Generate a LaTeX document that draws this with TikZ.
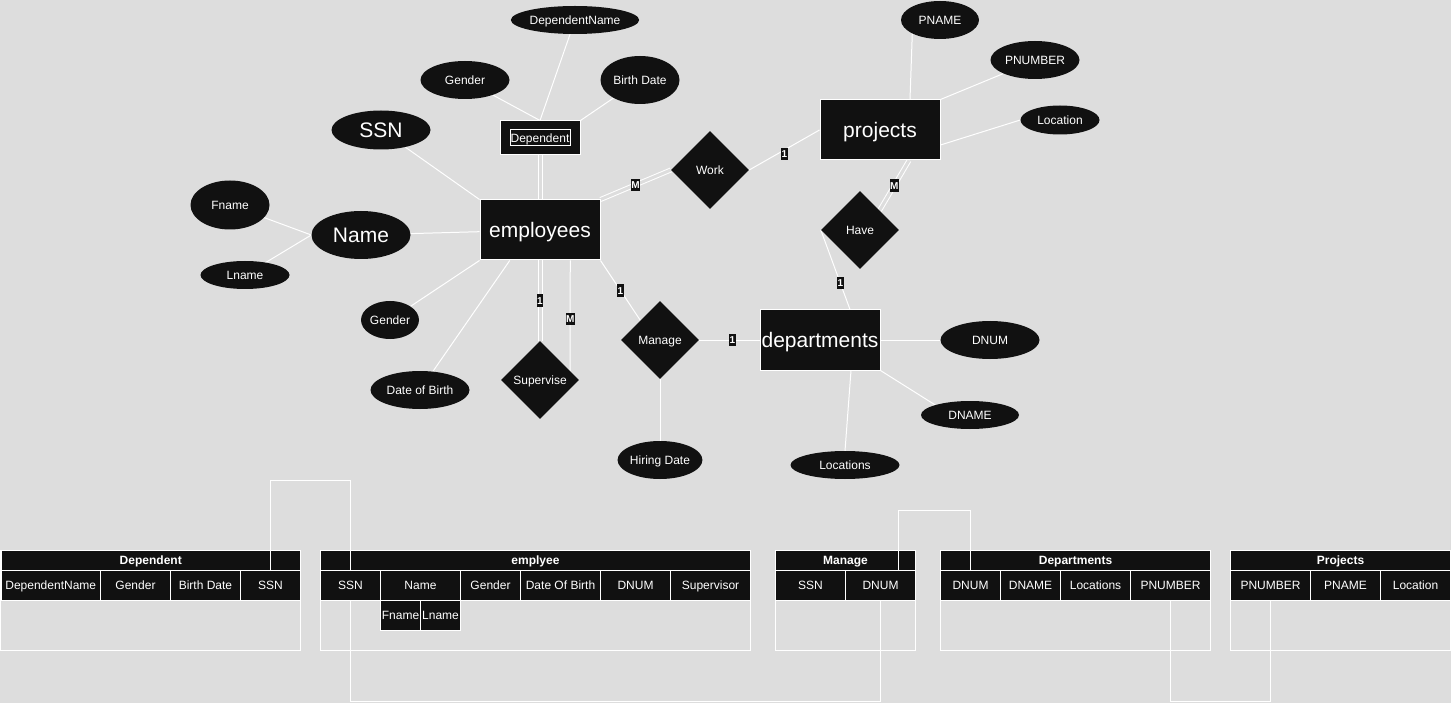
\documentclass[tikz,border=0pt]{standalone}
\usepackage{fontspec}
\setmainfont{Liberation Sans}
\usetikzlibrary{shapes.geometric,calc}
\definecolor{bgc}{HTML}{DDDDDD}
\definecolor{blk}{HTML}{111111}
\pgfdeclarelayer{bglayer}
\pgfdeclarelayer{edges}
\pgfsetlayers{bglayer,edges,main}
\begin{document}
\begin{tikzpicture}[x=1pt,y=-1pt,
  every node/.style={text=white, inner sep=0pt},
  small/.style={font=\fontsize{12}{14}\selectfont, text height=10.9pt, text depth=2.5pt},
  large/.style={font=\fontsize{21}{24}\selectfont, text height=19pt, text depth=4.5pt},
  attr/.style={ellipse, fill=blk, small},
  bigattr/.style={ellipse, fill=blk, large},
  ent/.style={rectangle, fill=blk, draw=white, line width=1pt, minimum width=120pt, minimum height=60pt, large},
  rel/.style={diamond, fill=blk, minimum width=78pt, minimum height=78pt, small},
  conn/.style={draw=white, line width=1pt},
  dconn/.style={draw=white, line width=1pt, double=bgc, double distance=3pt},
  card/.style={fill=blk, text=white, font=\fontsize{10}{11}\selectfont\bfseries, inner xsep=0.5pt, inner ysep=2.5pt, text height=7.3pt, text depth=0pt},
  cell/.style={rectangle, fill=blk, draw=white, line width=1pt, small, anchor=north west, minimum height=30pt},
  ttl/.style={cell, font=\fontsize{12}{14}\selectfont\bfseries, minimum height=20pt},
  sub/.style={cell, minimum height=30pt},
  outline/.style={draw=white, line width=1pt}
]
\useasboundingbox (0,0) rectangle (1451,703);
\begin{pgfonlayer}{bglayer}
\fill[bgc] (0,0) rectangle (1451,703);
\end{pgfonlayer}

% ---------- ER diagram ----------
\node[attr, minimum width=108pt, minimum height=28pt] (depname) at (575,20) {DependentName};
\node[attr, minimum width=89pt, minimum height=38pt] (dgender) at (465,80) {Gender};
\node[attr, minimum width=79pt, minimum height=48pt] (dbirth) at (640,80) {Birth Date};
\node[bigattr, minimum width=99pt, minimum height=39pt] (ssn) at (381,130) {SSN};
\node[bigattr, minimum width=99pt, minimum height=48pt] (name) at (361,235) {Name};
\node[attr, minimum width=79pt, minimum height=49pt] (fname) at (230,205) {Fname};
\node[attr, minimum width=89pt, minimum height=28pt] (lname) at (245,275) {Lname};
\node[attr, minimum width=58pt, minimum height=38pt] (egender) at (390,320) {Gender};
\node[attr, minimum width=99pt, minimum height=38pt] (dob) at (420,390) {Date of Birth};
\node[attr, minimum width=78pt, minimum height=38pt] (pname) at (940,20) {PNAME};
\node[attr, minimum width=89pt, minimum height=38pt] (pnumber) at (1035,60) {PNUMBER};
\node[attr, minimum width=79pt, minimum height=29pt] (ploc) at (1060,120) {Location};
\node[attr, minimum width=99pt, minimum height=38pt] (dnum) at (990,340) {DNUM};
\node[attr, minimum width=98pt, minimum height=28pt] (dnamen) at (970,415) {DNAME};
\node[attr, minimum width=109pt, minimum height=28pt] (locs) at (845,465) {Locations};
\node[attr, minimum width=78pt, minimum height=38pt] (hire) at (660,460) {Hiring Date};

\node[rectangle, fill=blk, draw=white, line width=1pt, minimum width=80pt, minimum height=34pt] (dep) at (540,138) {};
\node[draw=white, line width=1pt, minimum width=60pt, minimum height=16pt, small] (depin) at (dep) {Dependent};
\node[ent] (emp) at (540,230) {employees};
\node[ent] (proj) at (880,130) {projects};
\node[ent] (dept) at (820,340) {departments};

\node[rel] (work) at (710,170) {Work};
\node[rel] (have) at (860,230) {Have};
\node[rel] (man) at (660,340) {Manage};
\node[rel] (sup) at (540,380) {Supervise};

\begin{pgfonlayer}{edges}
\draw[conn] (dep.north) -- (depname);
\draw[conn] (dgender) -- (dep.north);
\draw[conn] (dbirth) -- (dep.north east);
\draw[dconn] (dep.south) -- (emp.north);
\draw[conn] (ssn) -- (emp.north west);
\draw[conn] (name) -- (emp);
\draw[conn] (fname) -- (name.west);
\draw[conn] (lname) -- (name.west);
\draw[conn] (egender) -- (emp.south west);
\draw[conn] (dob) -- ($(emp.south west)!0.25!(emp.south east)$);
\draw[dconn] (emp.south) -- node[card]{1} (sup.north);
\draw[conn] ($(emp.south)!0.5!(emp.south east)$) -- node[card, pos=0.53]{M} ($(sup.north)!0.77!(sup.east)$);
\draw[conn] (emp.south east) -- node[card]{1} (man.north west);
\draw[conn] (man) -- node[card, pos=0.55]{1} (dept);
\draw[conn] (man) -- (hire);
\draw[conn] ($(dept.north)+(30,0)$) -- node[card, pos=0.33]{1} (have.west);
\draw[dconn] ($(proj.south)+(29,0)$) -- node[card]{M} (have.north east);
\draw[dconn] (emp.north east) -- node[card]{M} (work.west);
\draw[conn] (work.east) -- node[card, yshift=-4pt]{1} (proj.west);
\draw[conn] ($(proj.north)+(30,0)$) -- (pname.south west);
\draw[conn] (proj.north east) -- (pnumber.south west);
\draw[conn] ($(proj.east)+(0,15)$) -- (ploc.west);
\draw[conn] (dept) -- (dnum);
\draw[conn] (dept.south east) -- (dnamen.north west);
\draw[conn] ($(dept.south)+(31,0)$) -- (locs.north);
\end{pgfonlayer}

% ---------- Tables ----------
% Dependent
\draw[outline] (0.5,550) rectangle (300,650);
\node[ttl, minimum width=299.5pt] (tdep) at (0.5,550) {Dependent};
\node[cell, minimum width=99.5pt] (c1) at (0.5,570) {DependentName};
\node[cell, minimum width=70pt] (c2) at (100,570) {Gender};
\node[cell, minimum width=70pt] (c3) at (170,570) {Birth Date};
\node[cell, minimum width=60pt] (dssn) at (240,570) {SSN};

% emplyee
\draw[outline] (320,550) rectangle (750,650);
\node[ttl, minimum width=430pt] (temp) at (320,550) {emplyee};
\node[cell, minimum width=60pt] (essn) at (320,570) {SSN};
\node[cell, minimum width=80pt] (ename) at (380,570) {Name};
\node[cell, minimum width=60pt] (egen) at (460,570) {Gender};
\node[cell, minimum width=80pt] (edob) at (520,570) {Date Of Birth};
\node[cell, minimum width=70pt] (ednum) at (600,570) {DNUM};
\node[cell, minimum width=80pt] (esup) at (670,570) {Supervisor};
\node[sub, minimum width=40pt] (efn) at (380,600) {Fname};
\node[sub, minimum width=40pt] (eln) at (420,600) {Lname};

% Manage
\draw[outline] (775,550) rectangle (915,650);
\node[ttl, minimum width=140pt] (tman) at (775,550) {Manage};
\node[cell, minimum width=70pt] (mssn) at (775,570) {SSN};
\node[cell, minimum width=70pt] (mdnum) at (845,570) {DNUM};

% Departments
\draw[outline] (940,550) rectangle (1210,650);
\node[ttl, minimum width=270pt] (tdept) at (940,550) {Departments};
\node[cell, minimum width=60pt] (ddnum) at (940,570) {DNUM};
\node[cell, minimum width=60pt] (ddname) at (1000,570) {DNAME};
\node[cell, minimum width=70pt] (dlocs) at (1060,570) {Locations};
\node[cell, minimum width=80pt] (dpnum) at (1130,570) {PNUMBER};

% Projects
\draw[outline] (1230,550) rectangle (1450,650);
\node[ttl, minimum width=220pt] (tproj) at (1230,550) {Projects};
\node[cell, minimum width=80pt] (ppnum) at (1230,570) {PNUMBER};
\node[cell, minimum width=70pt] (ppname) at (1310,570) {PNAME};
\node[cell, minimum width=70pt] (pploc) at (1380,570) {Location};

% table connectors
\draw[conn] (dssn.north) -- ++(0,-90) -| (essn.north);
\draw[conn] (essn.south) -- ++(0,100) -| (mdnum.south);
\draw[conn] ($(mdnum.north)+(18,0)$) -- ++(0,-60) -| (ddnum.north);
\draw[conn] (dpnum.south) -- ++(0,100) -| (ppnum.south);
\end{tikzpicture}
\end{document}
